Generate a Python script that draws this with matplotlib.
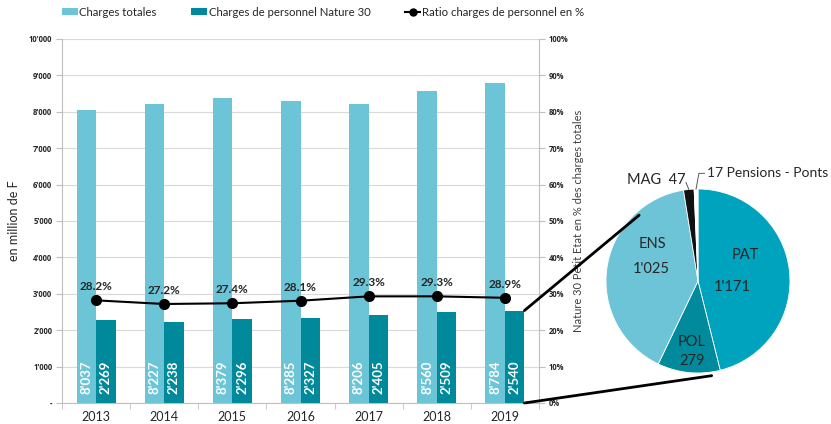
import numpy as np
import matplotlib
matplotlib.use("Agg")
import matplotlib.pyplot as plt
from matplotlib.patches import ConnectionPatch
from matplotlib.lines import Line2D

plt.rcParams['font.family'] = ['Lato', 'DejaVu Sans']

# data
years = ['2013', '2014', '2015', '2016', '2017', '2018', '2019']
charges_totales = [8037, 8227, 8379, 8285, 8206, 8560, 8784]
charges_personnel = [2269, 2238, 2296, 2327, 2405, 2509, 2540]
ratio = [28.2, 27.2, 27.4, 28.1, 29.3, 29.3, 28.9]

pie_labels = ['PAT', 'POL', 'ENS', 'MAG', 'Pensions - Ponts']
pie_values = [1171, 279, 1025, 47, 17]

c_light = '#6cc5d6'
c_dark = '#00899b'
pie_colors = ['#00a3be', '#008a9c', '#6cc4d6', '#111111', '#ffffff']
grid_c = '#d9d9d9'
txt_c = '#262626'
tick_font = ['Open Sans', 'DejaVu Sans']


def fmt(v):
    return f"{v:,.0f}".replace(',', "'")


fig = plt.figure(figsize=(8.31, 4.24), dpi=100)
ax = fig.add_axes([62 / 831, 21 / 424, 477 / 831, 364 / 424])
ax2 = ax.twinx()

x = np.arange(len(years))
w = 0.286
b1 = ax.bar(x - w / 2, charges_totales, w, color=c_light, label='Charges totales', zorder=2)
b2 = ax.bar(x + w / 2, charges_personnel, w, color=c_dark, label='Charges de personnel Nature 30', zorder=2)

for xi, v in zip(x, charges_totales):
    ax.text(xi - w / 2, 260, fmt(v), rotation=90, ha='center', va='bottom',
            color='white', fontsize=9.5, fontweight='bold', zorder=3)
for xi, v in zip(x, charges_personnel):
    ax.text(xi + w / 2, 260, fmt(v), rotation=90, ha='center', va='bottom',
            color='white', fontsize=9.5, fontweight='bold', zorder=3)

ax.set_xlim(-0.5, len(years) - 0.5)
ax.set_ylim(0, 10000)
ax.set_yticks(np.arange(0, 10001, 1000))
ax.set_yticklabels(['-' if v == 0 else fmt(v) for v in np.arange(0, 10001, 1000)],
                   fontsize=5.5, fontweight='bold', color=txt_c, family=tick_font)
ax.yaxis.grid(True, color=grid_c, lw=0.8, zorder=0)
ax.set_axisbelow(True)
ax.set_xticks(x)
ax.set_xticklabels(years, fontsize=9, color=txt_c)
ax.set_xticks(np.arange(-0.5, len(years)), minor=True)
ax.tick_params(axis='x', which='major', length=0, pad=6)
ax.tick_params(axis='x', which='minor', length=4, color='#bfbfbf')
ax.tick_params(axis='y', length=4, color='#bfbfbf', pad=3)
ax.set_ylabel('en million de F', fontsize=9, color=txt_c)
ax.yaxis.set_label_coords(-0.088, 0.5)
for s in ['top', 'right']:
    ax.spines[s].set_visible(False)
for s in ['left', 'bottom']:
    ax.spines[s].set_color('#bfbfbf')

ax2.plot(x, np.array(ratio) / 100, '-o', color='black', lw=1.5, ms=7,
         label='Ratio charges de personnel en %', zorder=4)
for xi, r in zip(x, ratio):
    ax2.text(xi, r / 100 + 0.022, f"{r:.1f}%", ha='center', va='bottom',
             fontsize=8.5, fontweight='bold', color=txt_c)
ax2.set_ylim(0, 1)
ax2.set_yticks(np.arange(0, 1.01, 0.1))
ax2.set_yticklabels([f"{int(round(v * 100))}%" for v in np.arange(0, 1.01, 0.1)],
                    fontsize=5.5, fontweight='bold', color=txt_c, family=tick_font)
ax2.tick_params(axis='y', length=4, color='#bfbfbf', pad=3)
ax2.set_ylabel('Nature 30 Petit Etat en % des charges totales', fontsize=8, color='#404040')
ax2.yaxis.set_label_coords(1.071, 0.5)
for s in ['top', 'left', 'bottom']:
    ax2.spines[s].set_visible(False)
ax2.spines['right'].set_color('#bfbfbf')

# legend
handles = [b1, b2, Line2D([], [], color='black', marker='o', lw=1.5, ms=5)]
labels = ['Charges totales', 'Charges de personnel Nature 30', 'Ratio charges de personnel en %']
fig.legend(handles, labels, loc='upper left', bbox_to_anchor=(0.062, 1.008), ncol=3,
           frameon=False, fontsize=8.2, handlelength=1.4, handleheight=0.6,
           handletextpad=0.15, columnspacing=3.0, labelcolor=txt_c)

# pie
axp = fig.add_axes([(698 - 92) / 831, (424 - 281 - 92) / 424, 184 / 831, 184 / 424])
axp.pie(pie_values, colors=pie_colors, startangle=90, counterclock=False,
        wedgeprops=dict(edgecolor='white', linewidth=0.6))
axp.set_xlim(-1, 1)
axp.set_ylim(-1, 1)
axp.set_aspect('equal')

fs_p = 10.5
axp.text(0.51, 0.28, pie_labels[0], ha='center', va='center', fontsize=fs_p, color=txt_c)
axp.text(0.37, -0.07, fmt(pie_values[0]), ha='center', va='center', fontsize=fs_p, color=txt_c)
axp.text(-0.07, -0.66, pie_labels[1], ha='center', va='center', fontsize=fs_p, color=txt_c)
axp.text(-0.07, -0.87, fmt(pie_values[1]), ha='center', va='center', fontsize=fs_p, color=txt_c)
axp.text(-0.5, 0.40, pie_labels[2], ha='center', va='center', fontsize=fs_p, color=txt_c)
axp.text(-0.51, 0.13, fmt(pie_values[2]), ha='center', va='center', fontsize=fs_p, color=txt_c)
axp.text(-0.13, 1.10, f"{pie_labels[3]}  {pie_values[3]}", ha='right', va='center',
         fontsize=fs_p, color=txt_c)
axp.text(0.10, 1.17, f"{pie_values[4]} {pie_labels[4]}", ha='left', va='center',
         fontsize=10, color=txt_c)

# leader lines for small slices
tot = sum(pie_values)
ang_mag = np.deg2rad(90 - 360 * (tot - pie_values[4] - pie_values[3] / 2) / tot)
ang_pen = np.deg2rad(90 - 360 * (tot - pie_values[4] / 2) / tot)
axp.plot([-0.13, np.cos(ang_mag)], [1.07, np.sin(ang_mag)], color='#595959', lw=0.7, clip_on=False)
axp.plot([0.07, 0.01, np.cos(ang_pen)], [1.17, 1.17, np.sin(ang_pen)], color='#595959', lw=0.7,
         clip_on=False)

# connector lines from the 2019 personnel bar to the pie
a_top = np.deg2rad(131.8)
a_bot = np.deg2rad(-81.8)
con1 = ConnectionPatch(xyA=(x[-1] + w, charges_personnel[-1]), coordsA=ax.transData,
                       xyB=(0.96 * np.cos(a_top), 0.96 * np.sin(a_top)), coordsB=axp.transData,
                       color='black', lw=2)
con2 = ConnectionPatch(xyA=(x[-1] + w, 0), coordsA=ax.transData,
                       xyB=(1.04 * np.cos(a_bot), 1.04 * np.sin(a_bot)), coordsB=axp.transData,
                       color='black', lw=2)
fig.add_artist(con1)
fig.add_artist(con2)

fig.savefig('out.png', dpi=100)
